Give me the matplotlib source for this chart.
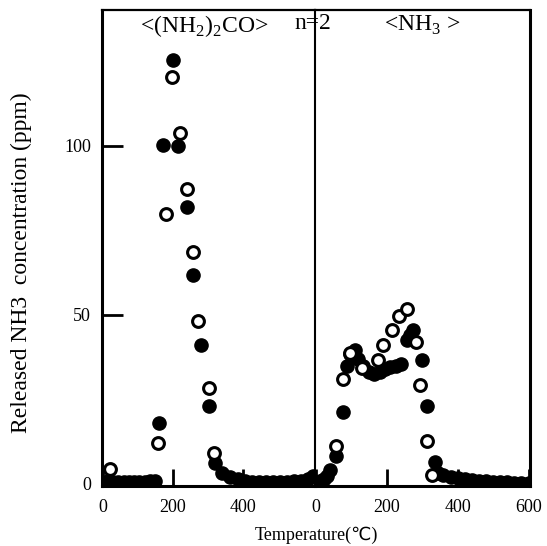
import matplotlib
matplotlib.use("Agg")
import matplotlib.pyplot as plt
import numpy as np

plt.rcParams['font.family'] = ['Liberation Serif', 'DejaVu Sans']
plt.rcParams['mathtext.fontset'] = 'custom'
plt.rcParams['mathtext.rm'] = 'Liberation Serif'

# <(NH2)2CO> panel
urea_x_filled = [15, 30, 45, 60, 75, 90, 105, 120, 135, 150, 160, 173, 200, 216, 240, 259, 281, 304, 321,
                 340, 364, 385, 405, 425, 445, 465, 485, 505, 525, 545, 565, 585, 600]
urea_y_filled = [0.8, 0.6, 0.5, 0.5, 0.6, 0.5, 0.6, 0.7, 0.8, 0.9, 18.1, 100.3, 125.3, 100.0, 81.9, 61.8, 41.1, 23.1, 6.1,
                 3.2, 2.2, 1.5, 1.0, 0.7, 0.5, 0.5, 0.5, 0.6, 0.6, 0.8, 1.0, 1.6, 2.4]
urea_x_open = [21, 159, 181, 197, 221, 242, 259, 273, 302, 318]
urea_y_open = [4.3, 12.2, 79.9, 120.3, 103.7, 87.3, 68.5, 48.3, 28.5, 9.1]

# <NH3> panel
nh3_x_filled = [2, 12, 22, 32, 40, 57, 78, 88, 97, 110, 120, 134, 150, 165, 180, 195, 210, 225, 240, 256, 265,
                275, 299, 314, 336, 345, 360, 380, 400, 420, 440, 460, 480, 500, 520, 540, 560, 580, 600]
nh3_y_filled = [0.5, 1.0, 1.6, 2.5, 4.1, 8.3, 21.4, 35.0, 38.5, 39.5, 37.0, 35.0, 33.0, 32.5, 33.0, 34.0, 34.5, 35.0,
                35.5, 42.6, 44.0, 45.6, 36.7, 23.2, 6.6, 3.2, 2.6, 2.2, 1.8, 1.5, 1.2, 1.0, 0.8, 0.7, 0.6, 0.5, 0.4, 0.4, 0.4]
nh3_x_open = [57, 77, 97, 130, 176, 190, 214, 236, 256, 284, 293, 314, 327]
nh3_y_open = [11.2, 31.0, 38.7, 34.2, 36.7, 41.1, 45.4, 49.7, 51.7, 42.1, 29.3, 12.8, 2.7]

fig = plt.figure(figsize=(5.47, 5.46), dpi=100)
bottom = 1 - 486 / 546
height = 476 / 546
ax1 = fig.add_axes([102 / 547, bottom, 213 / 547, height])
ax2 = fig.add_axes([315 / 547, bottom, 215 / 547, height])

filled = dict(marker="o", ms=9.5, mfc="black", mec="black", linestyle="none", mew=1)
hollow = dict(marker="o", ms=8.5, mfc="white", mec="black", linestyle="none", mew=2.2)

ax1.plot(urea_x_filled, urea_y_filled, **filled)
ax1.plot(urea_x_open, urea_y_open, **hollow)
ax2.plot(nh3_x_filled, nh3_y_filled, **filled)
ax2.plot(nh3_x_open, nh3_y_open, **hollow)

for ax in (ax1, ax2):
    ax.set_ylim(-0.6, 140.2)
    ax.tick_params(direction="in", width=2, length=12, labelsize=13, pad=9)
    for s in ax.spines.values():
        s.set_linewidth(2.2)

ax1.set_xlim(-2, 606)
ax2.set_xlim(-2, 604)
ax1.set_xticks([0, 200, 400])
ax2.set_xticks([0, 200, 400, 600])
ax1.set_yticks([0, 50, 100])
ax1.tick_params(axis="y", length=15, pad=8)
ax2.set_yticks([])
ax1.spines["right"].set_visible(False)
ax2.spines["left"].set_linewidth(1.5)
ax1.spines["top"].set_linewidth(1.6)
ax2.spines["top"].set_linewidth(1.6)

ax1.text(0.48, 0.993, "<(NH$_2$)$_2$CO>", transform=ax1.transAxes, ha="center", va="top", fontsize=17)
ax2.text(-0.01, 0.993, "n=2", transform=ax2.transAxes, ha="center", va="top", fontsize=17)
ax2.text(0.5, 0.993, "<NH$_3$ >", transform=ax2.transAxes, ha="center", va="top", fontsize=17)

ax1.set_ylabel("Released NH3  concentration (ppm)", fontsize=17)
ax1.yaxis.set_label_coords(-0.33, 0.47)
fig.text(316 / 547, 1 - 535 / 546, "Temperature(℃)", ha="center", va="center", fontsize=13)

fig.savefig("out.png", dpi=100)
